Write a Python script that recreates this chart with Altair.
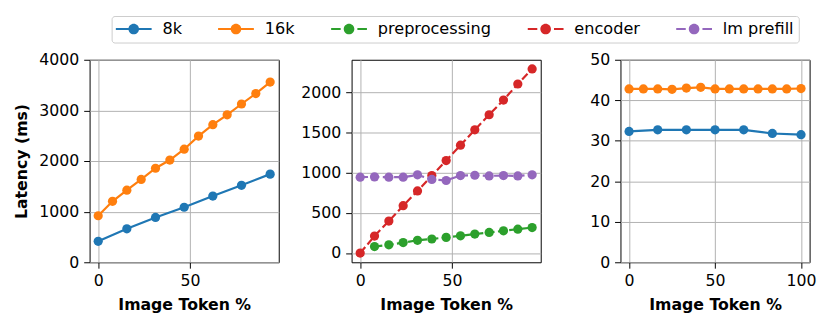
import altair as alt
import pandas as pd

# ---------------- data ----------------
names = ["8k", "16k", "preprocessing", "encoder", "lm prefill"]
colors = ["#1f77b4", "#ff7f0e", "#2ca02c", "#d62728", "#9467bd"]

# panel 1: end-to-end latency
p1_x8 = [0, 15.625, 31.25, 46.875, 62.5, 78.125, 93.75]
p1_8k = [414, 660, 886, 1087, 1307, 1521, 1741]
p1_x16 = [0, 7.8125, 15.625, 23.4375, 31.25, 39.0625, 46.875, 54.6875,
          62.5, 70.3125, 78.125, 85.9375, 93.75]
p1_16k = [919, 1204, 1424, 1637, 1857, 2019, 2233, 2492, 2718, 2912, 3126, 3333, 3560]

# panel 2: breakdown
p2_x = [0, 7.8125, 15.625, 23.4375, 31.25, 39.0625, 46.875, 54.6875,
        62.5, 70.3125, 78.125, 85.9375, 93.75]
p2_pre_x = [7.8125, 15.625, 23.4375, 31.25, 39.0625, 46.875, 54.6875,
            62.5, 70.3125, 78.125, 85.9375, 93.75]
p2_pre = [81, 102, 130, 159, 175, 195, 215, 236, 256, 276, 297, 317]
p2_enc = [0, 211, 398, 589, 772, 963, 1150, 1341, 1532, 1719, 1902, 2101, 2288]
p2_lm = [943, 947, 943, 943, 972, 915, 902, 963, 967, 959, 963, 959, 972]

# panel 3
p3_x8 = [0, 16.667, 33.333, 50, 66.667, 83.333, 100]
p3_8k = [32.3, 32.7, 32.7, 32.7, 32.7, 31.8, 31.5]
p3_x16 = [0, 8.333, 16.667, 25, 33.333, 41.667, 50, 58.333, 66.667, 75, 83.333, 91.667, 100]
p3_16k = [42.8, 42.8, 42.8, 42.7, 43.0, 43.2, 42.8, 42.8, 42.8, 42.8, 42.8, 42.8, 42.9]

p1_yticks = [0, 1000, 2000, 3000, 4000]
p2_yticks = [0, 500, 1000, 1500, 2000]
p3_yticks = [0, 10, 20, 30, 40, 50]
p12_xticks = [0, 50]
p3_xticks = [0, 50, 100]

x_title = "Image Token %"
y_title = "Latency (ms)"

# ---------------- helpers ----------------
FONT = "DejaVu Sans"
LW = 2.2
DASH = [8, 3.5]

# legend glyphs (line with marker), drawn as filled shapes
circle = "M0.82,0 A1.08,1.08 0 1,1 2.98,0 A1.08,1.08 0 1,1 0.82,0 Z"
solid_glyph = "M-1.74,-0.22 H5.54 V0.22 H-1.74 Z " + circle
dashed_glyph = "M-1.74,-0.22 H0.2 V0.22 H-1.74 Z M3.6,-0.22 H5.54 V0.22 H3.6 Z " + circle
glyphs = [solid_glyph, solid_glyph, dashed_glyph, dashed_glyph, dashed_glyph]


def frame(xs, ys, name):
    return pd.DataFrame({"x": xs, "y": ys, "series": name})


def padded(vals):
    lo, hi = min(vals), max(vals)
    pad = 0.05 * (hi - lo)
    return [lo - pad, hi + pad]


color_scale = alt.Scale(domain=names, range=colors)


def panel(series, xdom, xticks, ydom, yticks, ytitle, legend_df=None):
    xenc = alt.X("x:Q", scale=alt.Scale(domain=xdom, nice=False, zero=False),
                 axis=alt.Axis(values=xticks, title=x_title, format="d"))
    yaxis = dict(values=yticks, format="d", minExtent=53)
    if ytitle:
        yaxis["title"] = ytitle
    else:
        yaxis["title"] = None
    yenc = alt.Y("y:Q", scale=alt.Scale(domain=ydom, nice=False, zero=False),
                 axis=alt.Axis(**yaxis))
    layers = []
    for df, dashed in series:
        base = alt.Chart(df)
        lkw = dict(strokeWidth=LW, clip=True)
        if dashed:
            lkw["strokeDash"] = DASH
        layers.append(base.mark_line(**lkw).encode(
            x=xenc, y=yenc,
            color=alt.Color("series:N", scale=color_scale)))
        layers.append(base.mark_point(filled=True, size=88, opacity=1, clip=True).encode(
            x=xenc, y=yenc,
            color=alt.Color("series:N", scale=color_scale)))
    if legend_df is not None:
        leg = alt.Legend(title=None, orient="none", legendX=22.4, legendY=-44.5,
                         direction="horizontal", columns=5,
                         symbolSize=100, symbolStrokeWidth=0, symbolOpacity=1,
                         labelFont=FONT, labelFontSize=16.4, labelColor="black",
                         labelOffset=30.5, columnPadding=36, padding=4.8,
                         strokeColor="#cccccc", fillColor="white", cornerRadius=3)
        layers.append(alt.Chart(legend_df).mark_point(filled=True, opacity=0).encode(
            x=xenc, y=yenc,
            color=alt.Color("series:N", scale=color_scale, legend=leg),
            shape=alt.Shape("series:N", scale=alt.Scale(domain=names, range=glyphs), legend=leg)))
    return alt.layer(*layers).properties(width=192.4, height=206)


d1_8 = frame(p1_x8, p1_8k, "8k")
d1_16 = frame(p1_x16, p1_16k, "16k")
d2_pre = frame(p2_pre_x, p2_pre, "preprocessing")
d2_enc = frame(p2_x, p2_enc, "encoder")
d2_lm = frame(p2_x, p2_lm, "lm prefill")
d3_8 = frame(p3_x8, p3_8k, "8k")
d3_16 = frame(p3_x16, p3_16k, "16k")

p1 = panel([(d1_8, False), (d1_16, False)], padded(p1_x16), p12_xticks,
           [0, 4000], p1_yticks, y_title)
p2 = panel([(d2_pre, True), (d2_enc, True), (d2_lm, True)], padded(p2_x), p12_xticks,
           padded(p2_pre + p2_enc + p2_lm), p2_yticks, None,
           legend_df=pd.concat([d2_pre, d2_enc, d2_lm]))
p3 = panel([(d3_8, False), (d3_16, False)], padded(p3_x16), p3_xticks,
           [0, 50], p3_yticks, None)

chart = (
    alt.hconcat(p1, p2, p3, spacing=19.5)
    .resolve_scale(color="shared", shape="shared")
    .properties(padding={"left": 5, "top": 5, "right": 5, "bottom": 0})
    .configure(background="white")
    .configure_legend(disable=True)
    .configure_view(stroke="black", strokeWidth=1)
    .configure_axis(domain=False, grid=True, gridColor="#b0b0b0", gridWidth=1,
                    tickColor="black", tickSize=6, tickWidth=1,
                    labelFont=FONT, labelFontSize=16, labelColor="black", labelPadding=5,
                    labelFlush=False,
                    titleFont=FONT, titleFontSize=16, titleFontWeight="bold",
                    titleColor="black", titlePadding=8)
)

chart.save("out.html", embed_options={"renderer": "svg", "actions": False})
